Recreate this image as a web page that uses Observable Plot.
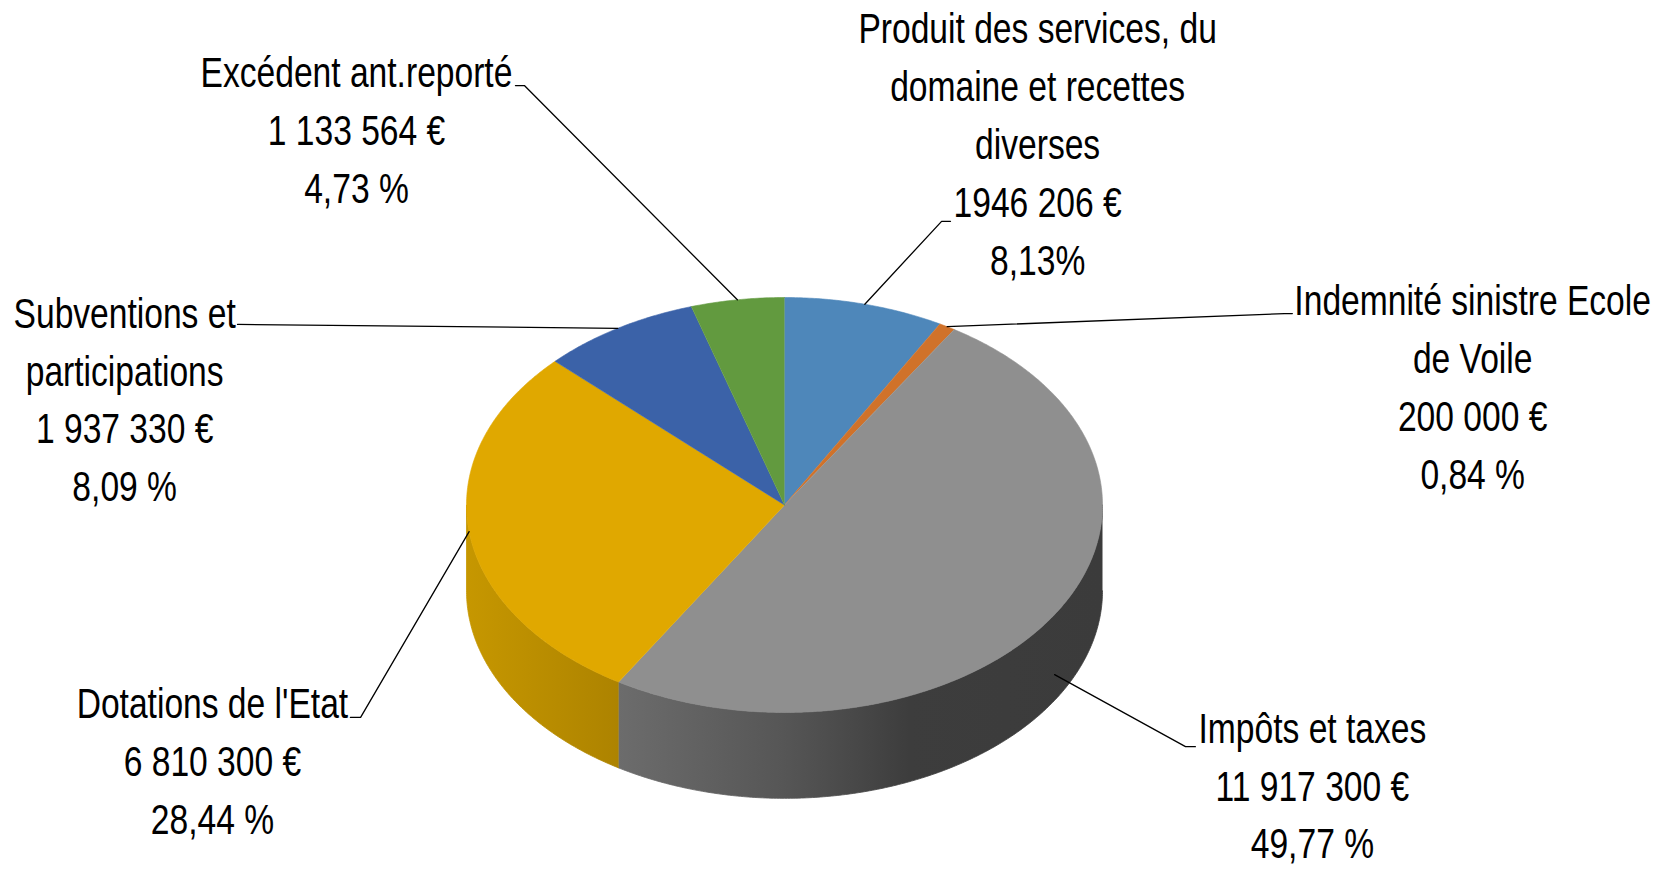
<!DOCTYPE html>
<html><head><meta charset="utf-8">
<script src="https://cdn.jsdelivr.net/npm/d3@7"></script>
<script src="https://cdn.jsdelivr.net/npm/@observablehq/plot@0.6"></script>
<style>html,body{margin:0;padding:0;background:#fff;overflow:hidden}</style>
</head><body><div id="chart"></div>
<script>
// ---- data ----
const categories = ["Produit des services, du domaine et recettes diverses", "Indemnité sinistre Ecole de Voile", "Impôts et taxes", "Dotations de l'Etat", "Subventions et participations", "Excédent ant.reporté"];
const categoryLines = ["Produit des services, du\ndomaine et recettes\ndiverses", "Indemnité sinistre Ecole\nde Voile", "Impôts et taxes", "Dotations de l'Etat", "Subventions et\nparticipations", "Excédent ant.reporté"];
const amounts = [1946206, 200000, 11917300, 6810300, 1937330, 1133564];
const amountLabels = ["1946 206 €", "200 000 €", "11 917 300 €", "6 810 300 €", "1 937 330 €", "1 133 564 €"];
const percentLabels = ["8,13%", "0,84 %", "49,77 %", "28,44 %", "8,09 %", "4,73 %"];

// ---- style / layout ----
const colors = ["#4e87ba", "#d0722a", "#8f8f8f", "#e0a800", "#3b62a8", "#629a3f"];
const sideShades = {
  2: [[0, "#6c6c6c"], [0.34, "#565656"], [0.5, "#474747"], [0.6, "#3d3d3d"], [1, "#3b3b3b"]],
  3: [[0, "#c69700"], [0.6, "#b78b00"], [1, "#ad8300"]]
};
const TILT = 0.6525, DEPTH = 0.27, LABEL_SHIFT = 0.019;
// label centre (lx,ly), leader elbow (ex,ey), leader end (tx,ty), in chart units
const labelLayout = [
  {lx: 0.796, ly: 1.127, ex: 0.494, ey: 0.892, tx: 0.522, ty: 0.892, drop: 0},
  {lx: 2.164, ly: 0.362, ex: 1.572, ey: 0.602, tx: 1.597, ty: 0.602, drop: 0},
  {lx: 1.660, ly: -0.890, ex: 1.261, ey: -0.760, tx: 1.292, ty: -0.760, drop: 0.7},
  {lx: -1.799, ly: -0.814, ex: -1.333, ey: -0.668, tx: -1.365, ty: -0.668, drop: 0},
  {lx: -2.075, ly: 0.324, ex: -1.720, ey: 0.568, tx: -1.720, ty: 0.568, drop: 0},
  {lx: -1.346, ly: 1.170, ex: -0.818, ey: 1.319, tx: -0.846, ty: 1.319, drop: 0}
];

// ---- geometry from data ----
const total = d3.sum(amounts);
const TAU = Math.PI * 2;
let acc = 0;
const slices = amounts.map((v, i) => {
  const a = acc / total * TAU; acc += v; const b = acc / total * TAU;
  return {i, a, b, m: (a + b) / 2};
});
const pt = (t, drop = 0) => ({x: Math.sin(t), y: TILT * Math.cos(t) - drop * DEPTH});
function arc(a, b, drop = 0) {
  const n = Math.max(2, Math.ceil((b - a) / (Math.PI / 360)));
  return d3.range(n + 1).map(k => pt(a + (b - a) * k / n, drop));
}
const tops = slices.map(s => [{x: 0, y: 0}, ...arc(s.a, s.b)]);
const sides = slices.map(s => {
  const a = Math.max(s.a, Math.PI / 2), b = Math.min(s.b, 3 * Math.PI / 2);
  if (a >= b) return null;
  return [...arc(a, b), ...arc(a, b, 1).reverse()];
});
const leaders = slices.flatMap((s, i) => {
  const L = labelLayout[i];
  const p = pt(s.m, L.drop);
  return [{k: i, x: p.x, y: p.y}, {k: i, x: L.ex, y: L.ey}, {k: i, x: L.tx, y: L.ty}];
});
const labels = slices.map((s, i) => ({
  x: labelLayout[i].lx, y: labelLayout[i].ly + LABEL_SHIFT,
  text: categoryLines[i] + "\n" + amountLabels[i] + "\n" + percentLabels[i]
}));

const defsMark = () => {
  const defs = d3.create("svg:defs");
  sides.forEach((p, i) => {
    if (!p) return;
    const stops = sideShades[i] || [[0, d3.color(colors[i]).darker(0.4).formatHex()], [1, d3.color(colors[i]).darker(1).formatHex()]];
    const g = defs.append("linearGradient").attr("id", "side" + i).attr("x1", 0).attr("x2", 1).attr("y1", 0).attr("y2", 0);
    stops.forEach(([o, c]) => g.append("stop").attr("offset", o).attr("stop-color", c));
  });
  return defs.node();
};

const marks = [defsMark];
sides.forEach((p, i) => {
  if (p) marks.push(Plot.line(p, {x: "x", y: "y", fill: `url(#side${i})`, stroke: `url(#side${i})`, strokeWidth: 0.8}));
});
tops.forEach((p, i) => {
  marks.push(Plot.line(p, {x: "x", y: "y", fill: colors[i], stroke: colors[i], strokeWidth: 0.6}));
});
marks.push(Plot.line(leaders, {x: "x", y: "y", z: "k", stroke: "#000", strokeWidth: 1.3}));
marks.push(Plot.text(labels, {x: "x", y: "y", text: "text", fontSize: 42, lineHeight: 1.38, textAnchor: "middle", lineAnchor: "middle", fill: "#000", fontFamily: "Liberation Sans"}));

const chart = Plot.plot({
  width: 1667, height: 871, margin: 0,
  x: {domain: [-1, 1], range: [466, 1102], axis: null},
  y: {domain: [-1, 1], range: [822.5, 186.5], axis: null},
  style: {background: "#fff", fontFamily: "Liberation Sans"},
  marks
});
chart.querySelectorAll('g[aria-label="text"] text').forEach(t => {
  const tr = t.getAttribute("transform") || "";
  t.setAttribute("transform", tr + " scale(0.8,1)");
});
document.getElementById("chart").appendChild(chart);
</script></body></html>
